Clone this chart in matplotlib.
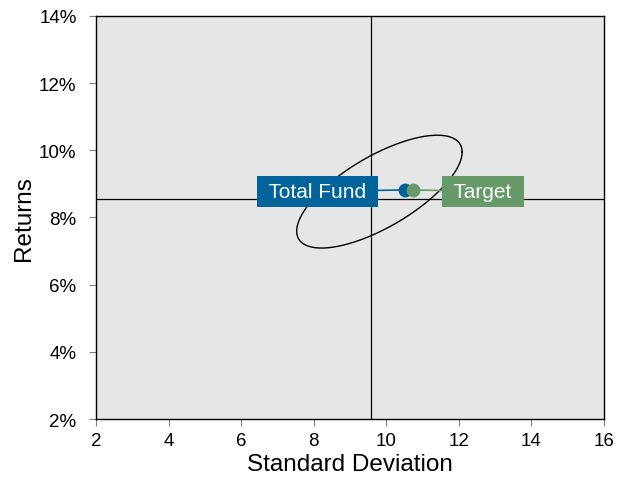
import numpy as np
import matplotlib
matplotlib.use('Agg')
import matplotlib.pyplot as plt
from matplotlib.ticker import FuncFormatter

plt.rcParams['font.family'] = ['Liberation Sans', 'DejaVu Sans']

# risk / return points
names = ['Total Fund', 'Target']
std_dev = [10.51, 10.73]
returns = [8.82, 8.82]
colors = ['#00649b', '#679a69']
label_x = [9.60, 11.71]          # text edge nearest the point
label_side = ['right', 'left']

# reference (median) lines
ref_std = 9.58
ref_ret = 8.55

# confidence ellipse
ell_center = [9.81, 8.77]
ell_sd = [2.28, 1.68]
ell_corr = 0.70

xticks = [2, 4, 6, 8, 10, 12, 14, 16]
yticks = [2, 4, 6, 8, 10, 12, 14]

fig = plt.figure(figsize=(6.29, 4.81), dpi=100)
ax = fig.add_axes([0.1526, 0.1268, 0.8077, 0.8379])
ax.set_facecolor('#e6e6e6')

ax.axvline(ref_std, color='black', lw=0.9, zorder=1)
ax.axhline(ref_ret, color='black', lw=0.9, zorder=1)

cov = np.array([[ell_sd[0] ** 2, ell_corr * ell_sd[0] * ell_sd[1]],
                [ell_corr * ell_sd[0] * ell_sd[1], ell_sd[1] ** 2]])
L = np.linalg.cholesky(cov)
t = np.linspace(0, 2 * np.pi, 300)
pts = L @ np.vstack([np.cos(t), np.sin(t)])
ax.plot(pts[0] + ell_center[0], pts[1] + ell_center[1], color='black', lw=1.0, zorder=2)

for i, name in enumerate(names):
    ax.annotate(' ' + name + ' ', xy=(std_dev[i], returns[i]), xytext=(label_x[i], returns[i] - 0.04),
                ha=label_side[i], va='center', color='white', fontsize=15,
                bbox=dict(boxstyle='square,pad=0.3', fc=colors[i], ec='none'),
                arrowprops=dict(arrowstyle='-', color=colors[i], lw=1.2,
                                shrinkA=0, shrinkB=0),
                zorder=3)
for i in range(len(names)):
    ax.plot(std_dev[i], returns[i], 'o', ms=10, color=colors[i], mec='none', zorder=4)

ax.set_xlim(2, 16)
ax.set_ylim(2, 14)
ax.set_xticks(xticks)
ax.set_yticks(yticks)
ax.yaxis.set_major_formatter(FuncFormatter(lambda v, p: f'{v:.0f}%'))
ax.tick_params(direction='out', length=5, color='#808080', labelsize=13.5)
ax.tick_params(axis='x', pad=4.5)
ax.tick_params(axis='y', pad=9)
for s in ax.spines.values():
    s.set_color('black')
    s.set_linewidth(1.0)

ax.set_xlabel('Standard Deviation', fontsize=17.5, labelpad=3)
ax.set_ylabel('Returns', fontsize=17.5, labelpad=3)

fig.savefig('out.png', dpi=100)
